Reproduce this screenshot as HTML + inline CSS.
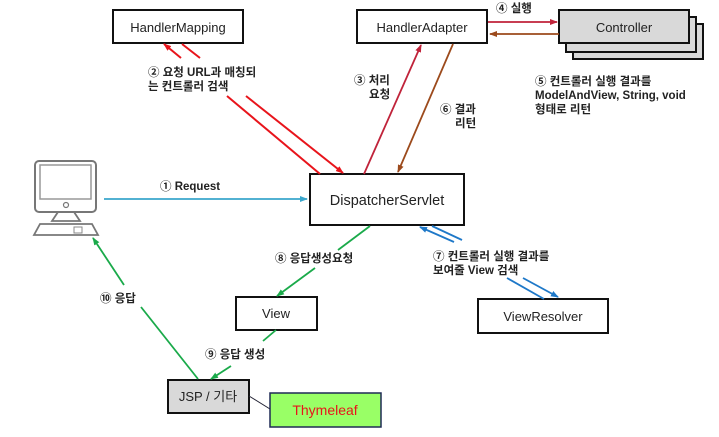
<!DOCTYPE html>
<html><head><meta charset="utf-8"><style>
html,body{margin:0;padding:0;background:#fff;}
svg{display:block;}
text{font-family:"Liberation Sans","Noto Sans CJK KR",sans-serif;}
.b{font-size:11.5px;font-weight:bold;fill:#222;}
.n{font-size:13px;fill:#222;}
</style></head><body>
<svg width="719" height="437" viewBox="0 0 719 437" xmlns="http://www.w3.org/2000/svg">
<defs>
<marker id="ar" markerWidth="8" markerHeight="8" refX="7" refY="4" orient="auto" markerUnits="userSpaceOnUse"><path d="M0,1 L8,4 L0,7z" fill="#e8141b"/></marker>
<marker id="ac" markerWidth="8" markerHeight="8" refX="7" refY="4" orient="auto" markerUnits="userSpaceOnUse"><path d="M0,1 L8,4 L0,7z" fill="#c0233a"/></marker>
<marker id="ab" markerWidth="8" markerHeight="8" refX="7" refY="4" orient="auto" markerUnits="userSpaceOnUse"><path d="M0,1 L8,4 L0,7z" fill="#9c4a1c"/></marker>
<marker id="ag" markerWidth="8" markerHeight="8" refX="7" refY="4" orient="auto" markerUnits="userSpaceOnUse"><path d="M0,1 L8,4 L0,7z" fill="#1aaa4a"/></marker>
<marker id="al" markerWidth="8" markerHeight="8" refX="7" refY="4" orient="auto" markerUnits="userSpaceOnUse"><path d="M0,1 L8,4 L0,7z" fill="#1e78c8"/></marker>
<marker id="ak" markerWidth="8" markerHeight="8" refX="7" refY="4" orient="auto" markerUnits="userSpaceOnUse"><path d="M0,1 L8,4 L0,7z" fill="#3aa6cc"/></marker>
</defs>

<rect x="35" y="161" width="61" height="51" rx="4" fill="#fff" stroke="#777" stroke-width="2"/>
<rect x="40" y="165" width="51" height="34" fill="none" stroke="#999" stroke-width="1.5"/>
<circle cx="66" cy="205" r="2.5" fill="none" stroke="#777" stroke-width="1.2"/>
<path d="M58,212 L52,221 L80,221 L74,212" fill="none" stroke="#777" stroke-width="1.8"/>
<path d="M40,224 L92,224 L98,235 L34,235z" fill="none" stroke="#777" stroke-width="1.8"/>
<rect x="74" y="227" width="8" height="6" fill="none" stroke="#888" stroke-width="1"/>

<rect x="113" y="10" width="130" height="33" fill="#fff" stroke="#111" stroke-width="2"/>
<text x="178" y="32" class="n" text-anchor="middle">HandlerMapping</text>
<rect x="357" y="10" width="130" height="33" fill="#fff" stroke="#111" stroke-width="2"/>
<text x="422" y="32" class="n" text-anchor="middle">HandlerAdapter</text>
<rect x="573" y="24" width="130" height="35" fill="#d9d9d9" stroke="#111" stroke-width="2"/>
<rect x="566" y="17" width="130" height="35" fill="#d9d9d9" stroke="#111" stroke-width="2"/>
<rect x="559" y="10" width="130" height="33" fill="#d9d9d9" stroke="#111" stroke-width="2"/>
<text x="624" y="32" class="n" text-anchor="middle">Controller</text>
<rect x="310" y="174" width="154" height="51" fill="#fff" stroke="#111" stroke-width="2"/>
<text x="387" y="205" font-size="14.5" fill="#222" text-anchor="middle">DispatcherServlet</text>
<rect x="236" y="297" width="81" height="33" fill="#fff" stroke="#111" stroke-width="2"/>
<text x="276" y="318" class="n" text-anchor="middle">View</text>
<rect x="478" y="299" width="130" height="34" fill="#fff" stroke="#111" stroke-width="2"/>
<text x="543" y="321" class="n" text-anchor="middle">ViewResolver</text>
<rect x="168" y="380" width="81" height="33" fill="#d9d9d9" stroke="#111" stroke-width="2"/>
<text x="208" y="401" class="n" text-anchor="middle">JSP / 기타</text>
<line x1="249" y1="396" x2="270" y2="409" stroke="#223" stroke-width="1"/>
<rect x="270" y="393" width="111" height="34" fill="#99ff66" stroke="#1f2a55" stroke-width="1.5"/>
<text x="325" y="415" font-size="14" fill="#e8141b" text-anchor="middle">Thymeleaf</text>

<line x1="104" y1="199" x2="307" y2="199" stroke="#3aa6cc" stroke-width="1.8" marker-end="url(#ak)"/>
<text x="160" y="190" class="b">① Request</text>

<line x1="181" y1="58" x2="164" y2="44" stroke="#e8141b" stroke-width="2" marker-end="url(#ar)"/>
<line x1="320" y1="174" x2="227" y2="96" stroke="#e8141b" stroke-width="2"/>
<line x1="182" y1="44" x2="200" y2="58" stroke="#e8141b" stroke-width="2"/>
<line x1="246" y1="96" x2="343" y2="173" stroke="#e8141b" stroke-width="2" marker-end="url(#ar)"/>
<text x="148" y="76" class="b">② 요청 URL과 매칭되</text>
<text x="148" y="90" class="b">는 컨트롤러 검색</text>

<line x1="364" y1="174" x2="421" y2="45" stroke="#c0233a" stroke-width="1.8" marker-end="url(#ac)"/>
<text x="354" y="84" class="b">③ 처리</text>
<text x="369" y="98" class="b">요청</text>
<line x1="453" y1="44" x2="398" y2="172" stroke="#9c4a1c" stroke-width="1.8" marker-end="url(#ab)"/>
<text x="440" y="113" class="b">⑥ 결과</text>
<text x="455" y="127" class="b">리턴</text>

<line x1="488" y1="22" x2="557" y2="22" stroke="#c0233a" stroke-width="1.8" marker-end="url(#ac)"/>
<line x1="559" y1="34" x2="490" y2="34" stroke="#9c4a1c" stroke-width="1.8" marker-end="url(#ab)"/>
<text x="496" y="12" class="b">④ 실행</text>
<text x="535" y="85" class="b">⑤ 컨트롤러 실행 결과를</text>
<text x="535" y="99" class="b">ModelAndView, String, void</text>
<text x="535" y="113" class="b">형태로 리턴</text>

<line x1="370" y1="226" x2="338" y2="250" stroke="#1aaa4a" stroke-width="1.8"/>
<line x1="315" y1="268" x2="277" y2="296" stroke="#1aaa4a" stroke-width="1.8" marker-end="url(#ag)"/>
<text x="275" y="262" class="b">⑧ 응답생성요청</text>

<line x1="454" y1="242" x2="420" y2="227" stroke="#1e78c8" stroke-width="1.8" marker-end="url(#al)"/>
<line x1="544" y1="299" x2="507" y2="278" stroke="#1e78c8" stroke-width="1.8"/>
<line x1="432" y1="226" x2="462" y2="240" stroke="#1e78c8" stroke-width="1.8"/>
<line x1="523" y1="278" x2="558" y2="297" stroke="#1e78c8" stroke-width="1.8" marker-end="url(#al)"/>
<text x="433" y="260" class="b">⑦ 컨트롤러 실행 결과를</text>
<text x="433" y="274" class="b">보여줄 View 검색</text>

<line x1="276" y1="330" x2="263" y2="341" stroke="#1aaa4a" stroke-width="1.8"/>
<line x1="231" y1="366" x2="211" y2="379" stroke="#1aaa4a" stroke-width="1.8" marker-end="url(#ag)"/>
<text x="205" y="358" class="b">⑨ 응답 생성</text>

<line x1="198" y1="379" x2="141" y2="307" stroke="#1aaa4a" stroke-width="1.8"/>
<line x1="124" y1="285" x2="93" y2="238" stroke="#1aaa4a" stroke-width="1.8" marker-end="url(#ag)"/>
<text x="100" y="302" class="b">⑩ 응답</text>
</svg>
</body></html>
